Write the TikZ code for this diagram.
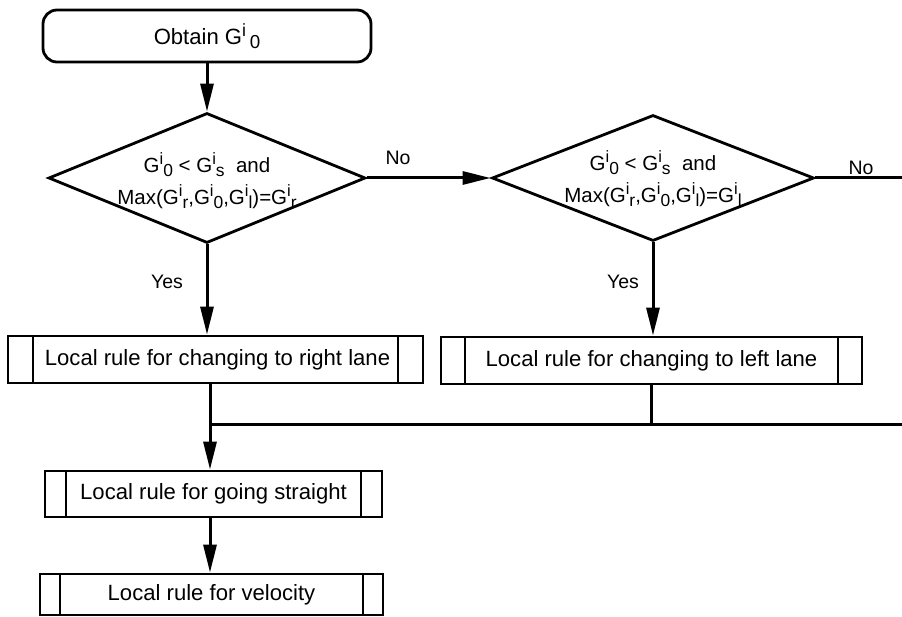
\documentclass[tikz,border=0pt]{standalone}
\usepackage{fontspec}
\setmainfont{Liberation Sans}
\usetikzlibrary{shapes.geometric,arrows.meta,calc}
\newcommand{\Gx}[1]{G\raisebox{0.38em}{\scalebox{0.8}{i}}\raisebox{-0.18em}{\scalebox{0.85}{#1}}}
\tikzset{
  conn/.style={line width=3pt},
  arr/.style={conn, -{Triangle[length=28pt,width=13pt]}},
  boxfont/.style={font=\fontsize{22.1}{24}\selectfont},
  term/.style={draw, line width=2.8pt, rounded corners=14pt, boxfont, inner sep=0pt},
  dia/.style={draw, diamond, line width=2.8pt, inner sep=0pt, aspect=2.5},
  diatext/.style={align=center, font=\fontsize{20.5}{32}\selectfont, inner sep=0pt},
  lbl/.style={font=\fontsize{19.5}{22}\selectfont, inner sep=0pt},
  predef/.style={draw, line width=2.8pt, boxfont, inner sep=0pt,
    path picture={\draw[line width=2.8pt]
      ([xshift=#1]path picture bounding box.north west) -- ([xshift=#1]path picture bounding box.south west)
      ([xshift=-#1]path picture bounding box.north east) -- ([xshift=-#1]path picture bounding box.south east);}}
}
\begin{document}
\begin{tikzpicture}[x=1pt,y=-1pt]
\useasboundingbox (0,0) rectangle (902,617);
\clip (0,0) rectangle (902,617);
\fill[white] (0,0) rectangle (902,617);

\node[term, minimum width=328pt, minimum height=52pt] (obtain) at (207,36) {Obtain G\raisebox{0.38em}{\scalebox{0.8}{i}}\,\raisebox{-0.18em}{\scalebox{0.85}{0}}\hspace{12pt}};

\node[dia, minimum width=317pt, minimum height=130pt] (d1) at (207,178) {};
\node[diatext] (d1t) at (207,181) {\Gx{0} < \Gx{s}\ \ and\\Max(\Gx{r},\Gx{0},\Gx{l})=\Gx{r}};

\node[dia, minimum width=322pt, minimum height=126pt] (d2) at (653,178) {};
\node[diatext] (d2t) at (653,179) {\Gx{0} < \Gx{s}\ \ and\\Max(\Gx{r},\Gx{0},\Gx{l})=\Gx{l}};

\node[predef=25pt, minimum width=415pt, minimum height=47pt] (rbox) at (215.5,359.5) {\hspace{4pt}Local rule for changing to right lane};
\node[predef=24pt, minimum width=421pt, minimum height=47pt] (lbox) at (651.5,360.5) {Local rule for changing to left lane};
\node[predef=21pt, minimum width=337pt, minimum height=46pt] (sbox) at (213.5,494) {Local rule for going straight};
\node[predef=20pt, minimum width=343pt, minimum height=41pt] (vbox) at (211.5,594.5) {Local rule for velocity};

\coordinate (j) at (210,424);
\coordinate (offr) at (925,178);

\draw[arr] (obtain) -- (d1);
\draw[arr] (d1.east) -- (d2.west);
\draw[arr] (d1.south) -- (d1.south |- rbox.north);
\draw[arr] (d2.south) -- (d2.south |- lbox.north);
\draw[arr] (j |- rbox.south) -- (j |- sbox.north);
\draw[conn] (lbox.south) -- (lbox.south |- j);
\draw[conn] (d2.east) -- (offr) |- (j);
\draw[arr] (j |- sbox.south) -- (j |- vbox.north);

\node[lbl] (no1) at (398,158) {No};
\node[lbl] (no2) at (861,168) {No};
\node[lbl] (yes1) at (167,282) {Yes};
\node[lbl] (yes2) at (623,282) {Yes};
\end{tikzpicture}
\end{document}
